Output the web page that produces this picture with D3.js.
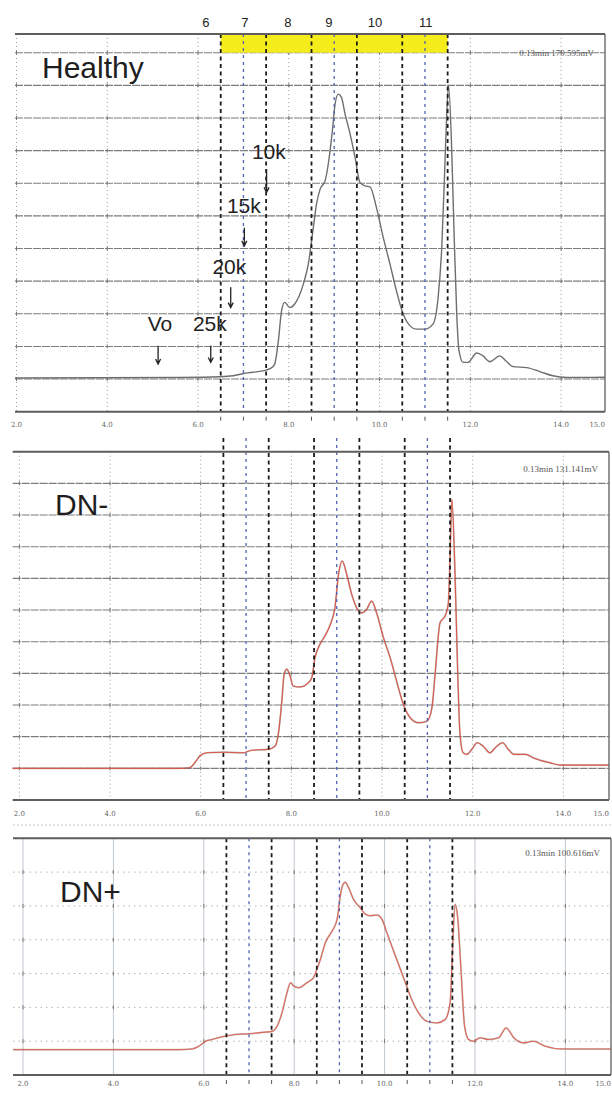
<!DOCTYPE html>
<html>
<head>
<meta charset="utf-8">
<script src="https://cdn.jsdelivr.net/npm/d3@7"></script>
<style>
  body { margin: 0; background: #fff; }
  svg { display: block; }
</style>
</head>
<body>
<script>
'use strict';

// page size
let width = 612,
  height = 1095;

// elution profiles: [time (min), signal in grid units]
const healthySignal = [
  [1.75, 0.3], [5.60, 0.5], [6.48, 0.7], [6.77, 1.0], [7.00, 1.7], [7.51, 2.8], [7.65, 3.8],
  [7.69, 4.6], [7.77, 11.7], [7.84, 20.9], [7.91, 23.5], [8.02, 21.9], [8.13, 23.0], [8.32, 29.1],
  [8.43, 35.2], [8.54, 46.4], [8.61, 53.6], [8.69, 58.2], [8.80, 60.8], [8.87, 65.9], [8.96, 76.1],
  [9.02, 84.3], [9.09, 87.3], [9.16, 86.3], [9.24, 81.2], [9.35, 75.1], [9.46, 67.9], [9.57, 60.2],
  [9.68, 59.2], [9.79, 58.9], [9.93, 52.6], [10.08, 43.4], [10.23, 35.2], [10.37, 27.1], [10.52, 19.9],
  [10.67, 16.3], [10.81, 15.3], [11.00, 15.3], [11.18, 16.9], [11.29, 25.0], [11.37, 40.3], [11.44, 65.9],
  [11.48, 81.2], [11.52, 90.0], [11.59, 69.9], [11.64, 45.4], [11.70, 19.9], [11.75, 8.7], [11.84, 5.1],
  [11.95, 5.1], [12.14, 8.0], [12.28, 7.1], [12.43, 5.3], [12.65, 7.1], [12.78, 5.6], [12.94, 3.8],
  [13.24, 3.5], [13.53, 2.3], [13.82, 1.0], [14.12, 0.5], [15.10, 0.55]
];

const dnMinusSignal = [
  [1.75, 0], [5.54, 0], [5.76, 0.2], [5.87, 1.8], [5.98, 3.9], [6.13, 4.9], [6.50, 5.1], [6.94, 4.9],
  [7.12, 5.7], [7.49, 6.0], [7.64, 7.0], [7.71, 10.7], [7.79, 21.3], [7.84, 29.7], [7.90, 31.3],
  [7.97, 29.2], [8.04, 26.0], [8.19, 25.7], [8.37, 27.0], [8.45, 28.6], [8.52, 34.9], [8.63, 39.2],
  [8.74, 41.8], [8.86, 45.5], [8.96, 50.7], [9.04, 61.3], [9.12, 65.5], [9.22, 61.3], [9.33, 55.0],
  [9.44, 50.7], [9.55, 49.1], [9.66, 50.2], [9.77, 52.8], [9.88, 49.1], [10.03, 41.3], [10.18, 34.9],
  [10.32, 27.6], [10.47, 20.2], [10.62, 16.0], [10.80, 14.4], [10.99, 14.9], [11.10, 19.1], [11.17, 29.7],
  [11.28, 46.0], [11.39, 48.1], [11.46, 51.8], [11.50, 66.5], [11.54, 85.0], [11.61, 61.3], [11.67, 29.7],
  [11.72, 10.7], [11.79, 4.9], [11.87, 4.4], [11.98, 6.0], [12.10, 8.1], [12.23, 7.0], [12.38, 4.9],
  [12.51, 6.7], [12.66, 8.1], [12.78, 6.1], [12.91, 4.4], [13.17, 4.4], [13.34, 3.3], [13.69, 1.8],
  [13.95, 1.0], [15.10, 1.0]
];

const dnPlusSignal = [
  [1.75, 0], [5.45, 0], [5.74, 0.2], [5.89, 1.0], [6.04, 2.5], [6.18, 3.0], [6.40, 3.8], [6.70, 4.5],
  [6.99, 4.7], [7.29, 5.1], [7.51, 5.4], [7.62, 6.9], [7.73, 10.9], [7.84, 16.8], [7.92, 19.8],
  [7.99, 18.8], [8.10, 18.3], [8.28, 19.8], [8.43, 21.3], [8.50, 23.7], [8.58, 26.7], [8.69, 31.7],
  [8.84, 35.1], [8.95, 38.6], [9.02, 45.5], [9.07, 48.5], [9.13, 49.5], [9.20, 48.0], [9.31, 44.5],
  [9.46, 42.0], [9.57, 40.1], [9.68, 39.6], [9.83, 39.8], [9.94, 38.6], [10.05, 34.6], [10.24, 27.7],
  [10.46, 19.8], [10.60, 14.8], [10.75, 10.9], [10.93, 8.4], [11.16, 7.9], [11.34, 8.9], [11.45, 13.9],
  [11.50, 28.7], [11.56, 43.0], [11.62, 38.6], [11.69, 23.7], [11.77, 6.9], [11.86, 3.0], [11.97, 2.5],
  [12.11, 3.5], [12.30, 3.0], [12.52, 3.5], [12.69, 6.4], [12.86, 3.5], [13.08, 2.0], [13.29, 2.5],
  [13.56, 1.0], [13.90, 0.2], [15.10, 0.2]
];

// fraction boundaries (min); blue ones mark the fraction centres
const fractionTime = [6.5, 7, 7.5, 8.5, 9, 9.5, 10.5, 11, 11.5];
const fractionBlue = [false, true, false, false, true, false, false, true, false];
const fractionLabels = ["6", "7", "8", "9", "10", "11"];
const fractionLabelTime = [6.17, 7.03, 7.98, 8.88, 9.9, 11.02];
const collectedRange = [6.5, 11.5];

// time axis
const tickTime = [2, 4, 6, 8, 10, 12, 14, 15];
const tickLabels = ["2.0", "4.0", "6.0", "8.0", "10.0", "12.0", "14.0", "15.0"];

// panel names and recorder stamps
const panelNames = ["Healthy", "DN-", "DN+"];
const cornerTexts = ["0.13min  179.595mV", "0.13min  131.141mV", "0.13min  100.616mV"];

// molecular weight markers in the healthy run
const markerLabels = ["10k", "15k", "20k", "Vo", "25k"];
const markerTime = [7.56, 7.01, 6.69, 5.16, 6.26];
const markerValue = [67.4, 51.0, 32.2, 14.8, 14.8];
const arrowTime = [7.51, 7.02, 6.72, 5.12, 6.28];
const arrowFrom = [64.4, 46.4, 28.1, 10.2, 10.2];
const arrowTo = [57.2, 40.8, 21.9, 4.6, 5.1];

window.onload = function () {
  let svg = d3.select("body")
    .append("svg")
    .attr("width", width)
    .attr("height", height);

  // panel layouts (pixels)
  let panels = [
    {
      signal: healthySignal, color: "#6e6e6e", under: null, name: panelNames[0], corner: cornerTexts[0],
      xRange: [16.5, 606.5], left: 15, right: 605,
      yDomain: [-10, 100], yRange: [411.7, 52.7], top: 34, dashTop: 34,
      nameX: 42, nameY: 78, cornerX: 594, cornerY: 56, labelY: 427,
      innerGrid: "solid", fractionTicks: true, band: true
    },
    {
      signal: dnMinusSignal, color: "#d85a4c", under: "#5a3a33", name: panelNames[1], corner: cornerTexts[1],
      xRange: [19.4, 608.7], left: 12.7, right: 609,
      yDomain: [-10, 100], yRange: [800, 451.7], top: 451.7, dashTop: 438,
      nameX: 55, nameY: 515, cornerX: 598, cornerY: 472, labelY: 816,
      innerGrid: "solid", fractionTicks: false, band: false
    },
    {
      signal: dnPlusSignal, color: "#dc6a5c", under: "#6a4a44", name: panelNames[2], corner: cornerTexts[2],
      xRange: [23, 610.6], left: 13, right: 611,
      yDomain: [-7.5, 62.5], yRange: [1075, 838.3], top: 838.3, dashTop: 838.3,
      nameX: 60, nameY: 902, cornerX: 600, cornerY: 856, labelY: 1086,
      innerGrid: "dotted", fractionTicks: true, band: false
    }
  ];

  // fraction numbers above the first panel
  let px = d3.scaleLinear().domain([2, 15]).range(panels[0].xRange);
  svg.append("g")
    .selectAll("text")
    .data(fractionLabels)
    .join("text")
    .attr("x", (d, i) => px(fractionLabelTime[i]))
    .attr("y", 27)
    .attr("text-anchor", "middle")
    .attr("font-family", "Liberation Sans, Arial, sans-serif")
    .attr("font-size", 13)
    .attr("fill", "#222")
    .text(d => d);

  // faint scan line above the last panel
  svg.append("line")
    .attr("x1", 13).attr("x2", 611)
    .attr("y1", 825).attr("y2", 825)
    .style("stroke", "#c4c4c4")
    .style("stroke-dasharray", "2,2")
    .style("stroke-width", 1);

  panels.forEach((p, i) => drawPanel(svg, p, i));
  drawMarkers(svg, panels[0]);
}

// draws one chromatogram panel
function drawPanel(svg, p, idx) {
  let x = d3.scaleLinear().domain([2, 15]).range(p.xRange);
  let y = d3.scaleLinear().domain(p.yDomain).range(p.yRange);
  let axisY = p.yRange[0];
  let g = svg.append("g");

  g.append("clipPath")
    .attr("id", "clip" + idx)
    .append("rect")
    .attr("x", p.left)
    .attr("y", p.top)
    .attr("width", p.right - p.left)
    .attr("height", axisY - p.top);

  // vertical time grid
  g.append("g")
    .selectAll("line")
    .data(d3.range(2, 15, 2))
    .join("line")
    .attr("x1", d => x(d)).attr("x2", d => x(d))
    .attr("y1", p.top).attr("y2", axisY)
    .style("stroke", p.innerGrid == "solid" ? "#9a9a9a" : "#b8c2cc")
    .style("stroke-width", p.innerGrid == "solid" ? 1 : 0.9)
    .style("stroke-dasharray", p.innerGrid == "solid" ? "1,3" : null);

  // horizontal signal grid
  let gridValues = d3.range(p.yDomain[0] + 10, p.yDomain[1] + 0.01, 10)
    .filter(v => Math.abs(y(v) - p.top) > 1);
  g.append("g")
    .selectAll("line")
    .data(gridValues)
    .join("line")
    .attr("x1", p.left).attr("x2", p.right)
    .attr("y1", d => y(d)).attr("y2", d => y(d))
    .style("stroke", p.innerGrid == "solid" ? "#7d7d7d" : "#b3b3b3")
    .style("stroke-width", p.innerGrid == "solid" ? 1.1 : 1)
    .style("stroke-dasharray", p.innerGrid == "solid" ? "8,1" : "1.5,4");

  // small crosses where the grids meet
  let crosses = [];
  gridValues.forEach(v => d3.range(2, 15, 2).forEach(t => crosses.push([t, v])));
  g.append("g")
    .selectAll("line")
    .data(crosses)
    .join("line")
    .attr("x1", d => x(d[0])).attr("x2", d => x(d[0]))
    .attr("y1", d => y(d[1]) - 2).attr("y2", d => y(d[1]) + 2)
    .style("stroke", "#777")
    .style("stroke-width", 1);

  // collected fraction band
  if (p.band) {
    g.append("rect")
      .attr("x", x(collectedRange[0]))
      .attr("y", p.top)
      .attr("width", x(collectedRange[1]) - x(collectedRange[0]))
      .attr("height", y(p.yDomain[1]) - p.top)
      .attr("fill", "#f5ec1c");
  }

  // elution profile (dark trace with the coloured overlay)
  let line = d3.line()
    .x(d => x(d[0]))
    .y(d => y(d[1]))
    .curve(d3.curveMonotoneX);
  if (p.under) {
    g.append("path")
      .datum(p.signal)
      .attr("clip-path", "url(#clip" + idx + ")")
      .attr("d", line)
      .style("fill", "none")
      .style("stroke", p.under)
      .style("stroke-opacity", 0.35)
      .style("stroke-width", 1.8);
  }
  g.append("path")
    .datum(p.signal)
    .attr("clip-path", "url(#clip" + idx + ")")
    .attr("d", line)
    .style("fill", "none")
    .style("stroke", p.color)
    .style("stroke-width", p.under ? 1.1 : 1.4)
    .style("stroke-linejoin", "round");

  // fraction boundaries
  g.append("g")
    .selectAll("line")
    .data(fractionTime)
    .join("line")
    .attr("x1", d => x(d)).attr("x2", d => x(d))
    .attr("y1", p.dashTop).attr("y2", axisY)
    .style("stroke", (d, i) => fractionBlue[i] ? "#5262b4" : "#1c1c1c")
    .style("stroke-width", (d, i) => fractionBlue[i] ? 1.3 : 1.8)
    .style("stroke-dasharray", (d, i) => fractionBlue[i] ? "3,4" : "4,3.5");

  if (p.fractionTicks) {
    g.append("g")
      .selectAll("line")
      .data(fractionTime)
      .join("line")
      .attr("x1", d => x(d)).attr("x2", d => x(d))
      .attr("y1", axisY + 5).attr("y2", axisY + 9)
      .style("stroke", "#555")
      .style("stroke-width", 1);
  }

  // frame: top, axis and right edge
  g.append("line")
    .attr("x1", p.left).attr("x2", p.right)
    .attr("y1", p.top).attr("y2", p.top)
    .style("stroke", "#5e5e5e").style("stroke-width", 2);
  g.append("line")
    .attr("x1", p.left).attr("x2", p.right)
    .attr("y1", axisY).attr("y2", axisY)
    .style("stroke", "#5e5e5e").style("stroke-width", 2);
  g.append("line")
    .attr("x1", p.right).attr("x2", p.right)
    .attr("y1", p.top).attr("y2", axisY)
    .style("stroke", "#6a6a6a").style("stroke-width", 1.4);

  // time labels (the last one sits against the right edge)
  g.append("g")
    .selectAll("text")
    .data(tickLabels)
    .join("text")
    .attr("x", (d, i) => i == tickLabels.length - 1 ? p.right : x(tickTime[i]))
    .attr("y", p.labelY)
    .attr("text-anchor", (d, i) => i == tickLabels.length - 1 ? "end" : "middle")
    .attr("font-family", "DejaVu Serif, serif")
    .attr("font-size", 7)
    .attr("fill", "#666")
    .text(d => d);

  // panel name
  g.append("text")
    .attr("x", p.nameX)
    .attr("y", p.nameY)
    .attr("font-family", "Liberation Sans, Arial, sans-serif")
    .attr("font-size", 30)
    .attr("fill", "#1e1e1e")
    .text(p.name);

  // recorder stamp
  g.append("text")
    .attr("x", p.cornerX)
    .attr("y", p.cornerY)
    .attr("text-anchor", "end")
    .attr("font-family", "Liberation Serif, serif")
    .attr("font-size", 9)
    .attr("fill", "#555")
    .text(p.corner);
}

// draws the molecular weight markers on the healthy panel
function drawMarkers(svg, p) {
  let x = d3.scaleLinear().domain([2, 15]).range(p.xRange);
  let y = d3.scaleLinear().domain(p.yDomain).range(p.yRange);
  let g = svg.append("g");

  g.selectAll("text")
    .data(markerLabels)
    .join("text")
    .attr("x", (d, i) => x(markerTime[i]))
    .attr("y", (d, i) => y(markerValue[i]))
    .attr("text-anchor", "middle")
    .attr("font-family", "Liberation Sans, Arial, sans-serif")
    .attr("font-size", 21)
    .attr("fill", "#222")
    .text(d => d);

  g.selectAll("path")
    .data(markerLabels)
    .join("path")
    .attr("d", (d, i) => {
      let ax = x(arrowTime[i]), y0 = y(arrowFrom[i]), y1 = y(arrowTo[i]);
      return "M" + ax + "," + y0 + "V" + y1 +
        "M" + (ax - 2.5) + "," + (y1 - 5) + "L" + ax + "," + y1 + "L" + (ax + 2.5) + "," + (y1 - 5);
    })
    .style("fill", "none")
    .style("stroke", "#222")
    .style("stroke-width", 1.3);
}
</script>
</body>
</html>
